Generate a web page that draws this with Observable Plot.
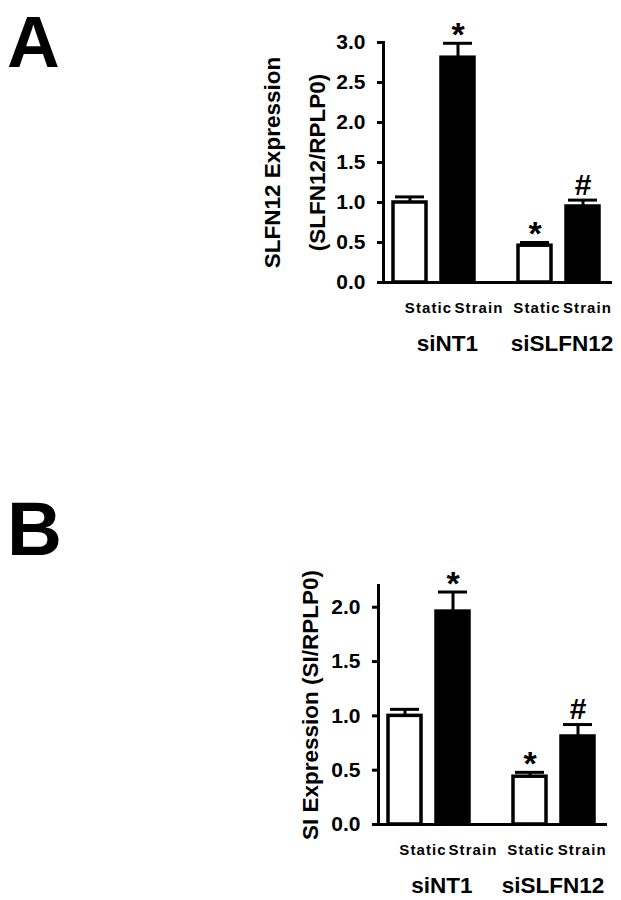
<!DOCTYPE html>
<html>
<head>
<meta charset="utf-8">
<script src="https://cdn.jsdelivr.net/npm/d3@7"></script>
<script src="https://cdn.jsdelivr.net/npm/@observablehq/plot@0.6"></script>
<style>
  html, body { margin: 0; padding: 0; background: white; }
  #wrap { position: relative; width: 621px; height: 900px; overflow: hidden; font-family: "Liberation Sans", Arial, sans-serif; }
  #wrap svg { display: block; }
  .letter { position: absolute; font-weight: bold; color: black; }
  g.cond text { letter-spacing: 1.1px; }
</style>
</head>
<body>
<div id="wrap">
  <div class="letter" style="left:7px; top:5px; font-size:73px; line-height:73px;">A</div>
  <div class="letter" style="left:7px; top:491px; font-size:76px; line-height:76px;">B</div>
  <div id="panelA"></div>
  <div id="panelB"></div>
</div>
<script>
// ---- data ----
const groups = ["siNT1", "siSLFN12"];
const conditions = ["Static", "Strain"];

const meanA = [1.0, 2.81, 0.46, 0.95];
const semA  = [0.07, 0.18, 0.04, 0.08];
const sigA  = ["", "*", "*", "#"];
const ticksA = [0, 0.5, 1.0, 1.5, 2.0, 2.5, 3.0];
const yLabelA = "SLFN12 Expression\n(SLFN12/RPLP0)";

const meanB = [1.0, 1.96, 0.44, 0.81];
const semB  = [0.06, 0.18, 0.04, 0.11];
const sigB  = ["", "*", "*", "#"];
const ticksB = [0, 0.5, 1.0, 1.5, 2.0];
const yLabelB = "SI Expression (SI/RPLP0)";

function rowsOf(means, sems, sigs) {
  return means.map((m, i) => ({
    group: groups[Math.floor(i / 2)],
    condition: conditions[i % 2],
    mean: m,
    sem: sems[i],
    sig: sigs[i]
  }));
}

function panel({rows, yMax, ticks, yLabel, labelDx, margins, condDx, groupDx}) {
  const top = d => d.mean + d.sem;
  const condMarks = rows.map((r, i) =>
    Plot.text([r], {
      fx: "group", x: "condition", text: "condition", frameAnchor: "bottom",
      lineAnchor: "top", dy: 20, dx: condDx[i], fontSize: 15, fontWeight: "bold", className: "cond"
    })
  );
  const groupMarks = groups.map((g, gi) =>
    Plot.text([{group: g}], {
      fx: "group", text: "group", frameAnchor: "bottom",
      lineAnchor: "top", dy: 53, dx: groupDx[gi], fontSize: 22.5, fontWeight: "bold"
    })
  );
  return Plot.plot({
    width: 621,
    height: 450,
    ...margins,
    style: {fontFamily: "'Liberation Sans', Arial, sans-serif", fontWeight: "bold", color: "black", background: "white"},
    fx: {domain: groups, paddingInner: 0.184, paddingOuter: 0, label: null, axis: null},
    x: {domain: conditions, paddingInner: 0.31, paddingOuter: 0.207, label: null, axis: null},
    y: {domain: [0, yMax], label: null},
    color: {domain: conditions, range: ["white", "black"]},
    marks: [
      Plot.ruleX(rows, {fx: "group", x: "condition", y1: "mean", y2: top, stroke: "black", strokeWidth: 3}),
      Plot.tickY(rows, {fx: "group", x: "condition", y: top, stroke: "black", strokeWidth: 3, insetLeft: 2, insetRight: 2}),
      Plot.barY(rows, {fx: "group", x: "condition", y: "mean", fill: "condition", stroke: "black", strokeWidth: 3.5}),
      Plot.text(rows.filter(d => d.sig === "*"), {fx: "group", x: "condition", y: top, text: "sig", fontSize: 34, fontWeight: "bold", dy: -8}),
      Plot.text(rows.filter(d => d.sig === "#"), {fx: "group", x: "condition", y: top, text: "sig", fontSize: 30, fontWeight: "bold", dy: -15}),
      Plot.frame({facet: "super", anchor: "left", stroke: "black", strokeWidth: 3}),
      Plot.frame({facet: "super", anchor: "bottom", stroke: "black", strokeWidth: 3}),
      Plot.axisY({ticks, tickFormat: d3.format(".1f"), tickSize: 6, tickPadding: 12, fontSize: 21, strokeWidth: 3, label: null}),
      ...condMarks,
      ...groupMarks,
      Plot.text([{group: groups[0]}], {fx: "group", text: () => yLabel, frameAnchor: "left", textAnchor: "middle", rotate: -90, dx: labelDx, fontSize: 22.5, fontWeight: "bold", lineHeight: 2, lineAnchor: "middle"})
    ]
  });
}

document.getElementById("panelA").append(panel({
  rows: rowsOf(meanA, semA, sigA),
  yMax: 3.0,
  ticks: ticksA,
  yLabel: yLabelA,
  labelDx: -95.6,
  condDx: [18.5, 21, 2, 4.5],
  groupDx: [13, 2.5],
  margins: {marginTop: 42, marginBottom: 168, marginLeft: 383, marginRight: 11}
}));

document.getElementById("panelB").append(panel({
  rows: rowsOf(meanB, semB, sigB),
  yMax: 2.2,
  ticks: ticksB,
  yLabel: yLabelB,
  labelDx: -75,
  condDx: [18, 20, 1, 4.3],
  groupDx: [12.5, -1.5],
  margins: {marginTop: 135, marginBottom: 76, marginLeft: 378, marginRight: 16}
}));
</script>
</body>
</html>
